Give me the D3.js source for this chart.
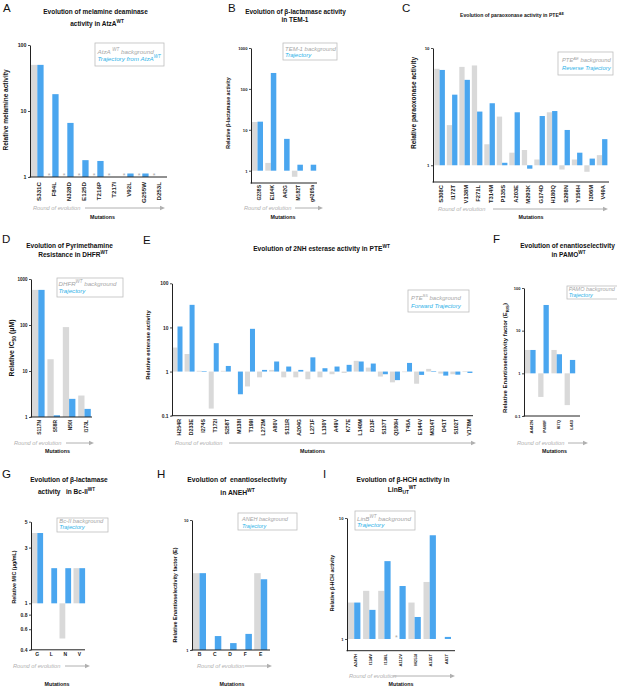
<!DOCTYPE html>
<html><head><meta charset="utf-8">
<script src="https://cdn.jsdelivr.net/npm/d3@7"></script>
<style>
body{margin:0;background:#fff;}
svg{display:block;font-family:"Liberation Sans",Arial,Helvetica,sans-serif;}
</style></head><body>
<svg id="chart" width="617" height="687"></svg>
<script>
// ---------------- DATA ----------------
const A_mutations  = ["S331C","F84L","N328D","E125D","T216P","T217I","V92L","G255W","D253L"];
const A_background = [50, null, null, null, null, null, null, null, null];
const A_trajectory = [50, 18, 6.6, 1.8, 1.75, null, 1.13, 1.13, null];
const A_notMeasured = ["F84L","N328D","E125D","T216P","T217I","V92L","G255W","D253L"];
const A_ticks = [1, 10, 100];

const B_mutations  = ["G238S","E104K","A42G","M182T","g4205a"];
const B_background = [15.5, 1.55, null, 0.71, null];
const B_trajectory = [15.8, 245, 6.0, 1.4, 1.4];
const B_ticks = [1, 10, 100, 1000];

const C_mutations  = ["S308C","I172T","V138M","F271L","T314M","P135S","A203E","M293K","G174D","H180Q","S298N","Y156H","I306M","V49A"];
const C_background = [6.65, 2.2, 6.9, 7.1, 1.51, 2.6, 1.28, 1.35, 1.12, 2.83, 0.92, 1.12, 0.88, 1.22];
const C_trajectory = [6.5, 4.0, 5.35, 2.87, 3.38, 1.05, 2.83, 0.935, 2.63, 2.9, 2.0, 1.28, 1.14, 1.67];
const C_ticks = [1, 10];

const D_mutations  = ["S117N","S58R","N50I","I173L"];
const D_background = [580, 18, 90, 2.93];
const D_trajectory = [580, 1.09, 2.48, 1.5];
const D_ticks = [1, 10, 100, 1000];

const E_mutations  = ["H254R","D233E","I274S","T172I","S258T","M138I","T199I","L272M","A80V","S111R","A204G","L271F","L130Y","A49V","K77E","L140M","D13F","S137T","Q180H","T45A","E144V","M314T","D41T","S102T","V178M"];
const E_background = [3.5, 2.5, 1.04, 0.145, 1.04, null, 0.46, 0.74, 1.09, 0.74, 0.74, 0.67, 0.74, 0.87, 0.93, 1.75, 1.23, 0.77, 0.57, 0.97, 0.53, 1.15, 0.9, 0.87, 1.03];
const E_trajectory = [10.5, 32.5, 1.03, 4.4, 1.34, 0.306, 9.3, 1.09, 1.69, 1.3, 1.09, 2.1, 1.19, 1.3, 1.42, 1.69, 1.52, 0.87, 0.64, 1.57, 0.84, 1.03, 0.81, 0.85, 0.93];
const E_ticks = [0.1, 1, 10, 100];

const F_mutations  = ["A442N","P440F","I67Q","L443"];
const F_background = [3.53, 0.28, 3.53, 0.18];
const F_trajectory = [3.53, 40, 2.8, 2.06];
const F_ticks = [0.1, 1, 10, 100];

const G_mutations  = ["G","L","N","V"];
const G_background = [4, null, 0.5, 2];
const G_trajectory = [4, 2, 2, 2];
const G_ticks = [0.4, 0.6, 0.8, 1, 3, 5];

const H_mutations  = ["B","C","D","F","E"];
const H_background = [3.9, null, null, null, 3.9];
const H_trajectory = [3.9, 1.28, 1.13, 1.33, 3.5];
const H_ticks = [1, 10];

const I_mutations  = ["A247H","I134V","I138L","A112V","M253I","A135T","A81T"];
const I_background = [2.0, 2.5, 2.5, null, 2.0, 2.96, null];
const I_trajectory = [2.0, 1.74, 4.4, 2.74, 1.52, 7.2, 1.04];
const I_notMeasured = ["A112V"];
const I_ticks = [1, 10];

// ---------------- STYLE ----------------
const GREY = "#d9d9d9", BLUE = "#4aa6ef", LEG_BLUE = "#2db2e8", LEG_GREY = "#a5a5a5", INK = "#222", SOFT = "#b0b0b0";
const svg = d3.select("#chart");

function renderRich(t, str, fs) {
  t.selectAll("tspan").remove();
  t.attr("font-size", fs);
  const parts = str.split(/(\^\{[^}]*\}|_\{[^}]*\})/).filter(s => s.length);
  let off = 0;
  for (const p of parts) {
    let txt = p, target = 0, size = fs;
    if (p.startsWith("^{")) { txt = p.slice(2, -1); target = -fs * 0.42; size = fs * 0.72; }
    else if (p.startsWith("_{")) { txt = p.slice(2, -1); target = fs * 0.28; size = fs * 0.72; }
    t.append("tspan").attr("dy", (target - off).toFixed(2)).attr("font-size", size.toFixed(2)).text(txt);
    off = target;
  }
}
function fitRich(t, str, fs0, width) {
  renderRich(t, str, fs0);
  if (width) {
    const w = t.node().getBBox().width;
    if (w > 0) { renderRich(t, str, fs0 * width / w); return fs0 * width / w; }
  }
  return fs0;
}

function drawPanel(P) {
  const g = svg.append("g");
  g.append("text").attr("x", P.letter.x).attr("y", P.letter.y).attr("font-size", 11.5).attr("fill", "#111").text(P.letter.t);

  let tfs = 6.5;
  P.title.forEach((L, i) => {
    const t = g.append("text").attr("x", L.x).attr("y", L.y).attr("text-anchor", "middle")
      .attr("font-weight", "bold").attr("fill", "#111").style("white-space", "pre");
    if (i === 0) tfs = fitRich(t, L.s, 6.5, L.w); else renderRich(t, L.s, tfs);
  });

  const y = d3.scaleLog().domain(P.domain).range([P.yBottom, P.yTop]);
  const x = d3.scaleBand().domain(P.cats).range([P.x0, P.x0 + P.step * P.cats.length]);
  const base = y(1);
  const rows = [];
  P.cats.forEach((c, i) => {
    if (P.bg[i] != null) rows.push({ c, v: P.bg[i], k: 0 });
    if (P.tr[i] != null) rows.push({ c, v: P.tr[i], k: 1 });
  });
  g.append("g").selectAll("rect").data(rows).join("rect")
    .attr("x", d => x(d.c) + d.k * P.bw).attr("width", P.bw)
    .attr("y", d => Math.min(y(d.v), base)).attr("height", d => Math.abs(y(d.v) - base))
    .attr("fill", d => d.k ? BLUE : GREY);

  if (P.stars) g.append("g").selectAll("text").data(P.stars).join("text")
    .attr("x", c => x(c) + P.bw / 2).attr("y", base + 0.8).attr("text-anchor", "middle")
    .attr("font-size", 7).attr("fill", "#aaa").text("*");

  const ax = g.append("g").attr("transform", `translate(${P.axisX},0)`)
    .call(d3.axisLeft(y).tickValues(P.ticks).tickFormat(d3.format("~g")).tickSize(2).tickSizeOuter(0).tickPadding(1.5));
  ax.attr("font-family", null).attr("font-size", null);
  ax.select(".domain").attr("stroke", INK).attr("stroke-width", 1);
  ax.selectAll(".tick line").attr("stroke", INK).attr("stroke-width", 0.8);
  ax.selectAll(".tick text").attr("font-size", P.tickFs).attr("font-weight", "bold").attr("fill", INK);

  g.append("line").attr("x1", P.axisX - 0.5).attr("x2", P.xEnd).attr("y1", P.yBottom).attr("y2", P.yBottom)
    .attr("stroke", INK).attr("stroke-width", 1);

  // category labels
  const lab = g.append("g").selectAll("text").data(P.cats).join("text")
    .attr("font-weight", "bold").attr("font-size", P.labelFs).attr("fill", INK).text(d => d);
  if (P.horizontalLabels) {
    lab.attr("x", c => x(c) + P.bw).attr("y", P.labelY).attr("text-anchor", "middle");
  } else {
    lab.attr("transform", c => `translate(${x(c) + P.bw + 1.3},${P.labelTop}) rotate(-90)`)
      .attr("y", P.labelFs * 0.35).attr("text-anchor", "end");
  }

  // y label
  const yl = g.append("text").attr("transform", `translate(${P.ylabel.x},${P.ylabel.y}) rotate(-90)`)
    .attr("text-anchor", "middle").attr("font-weight", "bold").attr("fill", "#111");
  const yfs = fitRich(yl, P.ylabel.s, 6, P.ylabel.w);
  yl.attr("y", yfs * 0.35);

  // legend
  const Lg = P.legend;
  g.append("rect").attr("x", Lg.x).attr("y", Lg.y).attr("width", Lg.w).attr("height", Lg.h)
    .attr("fill", "none").attr("stroke", "#bdbdbd").attr("stroke-width", 0.8);
  const lt = Lg.lines.map((L, i) => g.append("text").attr("x", Lg.tx).attr("y", L.y)
    .attr("font-style", "italic").attr("fill", i === 0 ? LEG_GREY : LEG_BLUE));
  const lfs = fitRich(lt[Lg.fit], Lg.lines[Lg.fit].s, 5.5, Lg.fw);
  lt.forEach((t, i) => { if (i !== Lg.fit) renderRich(t, Lg.lines[i].s, lfs); });

  // round of evolution + arrow
  const R = P.round;
  g.append("text").attr("x", R.x).attr("y", R.y).attr("font-style", "italic").attr("font-size", 5.7)
    .attr("fill", SOFT).text("Round of evolution");
  g.append("line").attr("x1", R.ax1).attr("x2", R.ax2 - 4).attr("y1", R.ay).attr("y2", R.ay)
    .attr("stroke", SOFT).attr("stroke-width", 1);
  g.append("path").attr("d", `M${R.ax2},${R.ay} L${R.ax2 - 5},${R.ay - 2.3} L${R.ax2 - 5},${R.ay + 2.3} Z`).attr("fill", SOFT);

  g.append("text").attr("x", P.mut.x).attr("y", P.mut.y).attr("text-anchor", "middle")
    .attr("font-weight", "bold").attr("font-size", 5.3).attr("fill", "#111").text("Mutations");
}

// ---------------- PANELS ----------------
const panels = [
  { letter: {t: "A", x: 3, y: 11.5},
    title: [{s: "Evolution of melamine deaminase", x: 95.5, y: 14, w: 105}, {s: "activity in AtzA^{WT}", x: 97, y: 25.5}],
    cats: A_mutations, bg: A_background, tr: A_trajectory, stars: A_notMeasured, ticks: A_ticks,
    domain: [1, 100], yTop: 45, yBottom: 177, axisX: 30, xEnd: 167, x0: 31, step: 15, bw: 6.3,
    labelTop: 182, labelFs: 6.2, tickFs: 5.3,
    ylabel: {s: "Relative melamine activity", x: 6, y: 110, w: 82},
    legend: {x: 95, y: 43, w: 69, h: 23, tx: 97.5, fit: 1, fw: 64,
             lines: [{s: "AtzA ^{WT} background", y: 54}, {s: "Trajectory from AtzA^{WT}", y: 60.5}]},
    round: {x: 33, y: 210, ax1: 85, ax2: 165, ay: 208}, mut: {x: 102.5, y: 219} },
  { letter: {t: "B", x: 228, y: 11.5},
    title: [{s: "Evolution of β-lactamase activity", x: 295.5, y: 14, w: 101}, {s: "in TEM-1", x: 295, y: 21.5}],
    cats: B_mutations, bg: B_background, tr: B_trajectory, ticks: B_ticks,
    domain: [0.5, 1000], yTop: 48, yBottom: 183, axisX: 251, xEnd: 317, x0: 252, step: 13.3, bw: 5.5,
    labelTop: 185, labelFs: 5.0, tickFs: 4.2,
    ylabel: {s: "Relative β-lactamase activity", x: 228, y: 113, w: 72},
    legend: {x: 283, y: 43, w: 54, h: 17, tx: 285, fit: 0, fw: 52,
             lines: [{s: "TEM-1 background", y: 50.5}, {s: "Trajectory", y: 57}]},
    round: {x: 244, y: 210, ax1: 295, ax2: 323, ay: 208}, mut: {x: 283, y: 219} },
  { letter: {t: "C", x: 402, y: 11.5},
    title: [{s: "Evolution of paraoxonase activity in PTE^{AE}", x: 512, y: 17, w: 104}],
    cats: C_mutations, bg: C_background, tr: C_trajectory, ticks: C_ticks,
    domain: [0.72, 10], yTop: 48, yBottom: 182, axisX: 433, xEnd: 609, x0: 434.3, step: 12.5, bw: 5.3,
    labelTop: 185, labelFs: 5.8, tickFs: 4.3,
    ylabel: {s: "Relative paraoxonase activity", x: 414, y: 103, w: 93},
    legend: {x: 558, y: 52, w: 55, h: 23, tx: 562, fit: 1, fw: 50,
             lines: [{s: "PTE^{AE} background", y: 62}, {s: "Reverse Trajectory", y: 70}]},
    round: {x: 438, y: 211, ax1: 493, ax2: 608, ay: 209}, mut: {x: 531, y: 219} },
  { letter: {t: "D", x: 2, y: 243},
    title: [{s: "Evolution of Pyrimethamine", x: 69.5, y: 247.5, w: 87}, {s: "Resistance in DHFR^{WT}", x: 73, y: 256.5}],
    cats: D_mutations, bg: D_background, tr: D_trajectory, ticks: D_ticks,
    domain: [1, 1000], yTop: 279, yBottom: 417, axisX: 31, xEnd: 92, x0: 32, step: 15.4, bw: 6.3,
    labelTop: 420, labelFs: 4.9, tickFs: 4.5,
    ylabel: {s: "Relative IC_{50} (μM)", x: 12, y: 348, w: 57},
    legend: {x: 57, y: 278, w: 66, h: 19, tx: 58.5, fit: 0, fw: 59,
             lines: [{s: "DHFR^{WT} background", y: 286}, {s: "Trajectory", y: 292.5}]},
    round: {x: 14, y: 445, ax1: 66, ax2: 94, ay: 443}, mut: {x: 57.5, y: 453} },
  { letter: {t: "E", x: 143, y: 244},
    title: [{s: "Evolution of 2NH esterase activity in PTE^{WT}", x: 321.5, y: 251, w: 137}],
    cats: E_mutations, bg: E_background, tr: E_trajectory, ticks: E_ticks,
    domain: [0.1, 100], yTop: 283.3, yBottom: 415.7, axisX: 172, xEnd: 473, x0: 172.5, step: 12.08, bw: 5,
    labelTop: 419, labelFs: 5.3, tickFs: 4.9,
    ylabel: {s: "Relative esterase activity", x: 148, y: 345, w: 70},
    legend: {x: 408, y: 290, w: 61, h: 22, tx: 411, fit: 1, fw: 51,
             lines: [{s: "PTE^{S5} background", y: 300}, {s: "Forward Trajectory", y: 308}]},
    round: {x: 175, y: 445, ax1: 229, ax2: 476, ay: 443}, mut: {x: 312.5, y: 453} },
  { letter: {t: "F", x: 493, y: 243},
    title: [{s: "Evolution of enantioselectivity", x: 567.5, y: 247.5, w: 95}, {s: "in PAMO^{WT}", x: 568.5, y: 257}],
    cats: F_mutations, bg: F_background, tr: F_trajectory, ticks: F_ticks,
    domain: [0.1, 100], yTop: 288, yBottom: 416, axisX: 524, xEnd: 580, x0: 525, step: 13.2, bw: 5.3,
    labelTop: 420, labelFs: 4.3, tickFs: 4,
    ylabel: {s: "Relative Enantioselectivity factor (E_{R/S})", x: 505, y: 358, w: 110},
    legend: {x: 567, y: 286, w: 52, h: 13, tx: 568.7, fit: 0, fw: 47,
             lines: [{s: "PAMO background", y: 290.5}, {s: "Trajectory", y: 296.5}]},
    round: {x: 517, y: 445, ax1: 568, ax2: 588, ay: 443}, mut: {x: 554.5, y: 453} },
  { letter: {t: "G", x: 2, y: 478},
    title: [{s: "Evolution of β-lactamase", x: 69, y: 481.5, w: 78}, {s: "activity   in Bc-II^{WT}", x: 66.5, y: 494}],
    cats: G_mutations, bg: G_background, tr: G_trajectory, ticks: G_ticks,
    domain: [0.4, 5], yTop: 521.7, yBottom: 649.8, axisX: 31, xEnd: 85, x0: 31.5, step: 14, bw: 5.8,
    horizontalLabels: true, labelY: 656, labelFs: 5, tickFs: 5,
    ylabel: {s: "Relative MIC  (μg/mL)", x: 14, y: 577, w: 53},
    legend: {x: 57, y: 518, w: 51, h: 14, tx: 59.3, fit: 0, fw: 45,
             lines: [{s: "Bc-II background", y: 523}, {s: "Trajectory", y: 529.3}]},
    round: {x: 13, y: 668, ax1: 65, ax2: 90, ay: 666}, mut: {x: 57, y: 686} },
  { letter: {t: "H", x: 157, y: 478},
    title: [{s: "Evolution of  enantioselectivity", x: 237, y: 482, w: 100}, {s: "in ANEH^{WT}", x: 237.5, y: 495}],
    cats: H_mutations, bg: H_background, tr: H_trajectory, ticks: H_ticks,
    domain: [1, 10], yTop: 520, yBottom: 650, axisX: 192, xEnd: 270, x0: 193, step: 15.3, bw: 6.5,
    horizontalLabels: true, labelY: 656, labelFs: 5, tickFs: 4,
    ylabel: {s: "Relative Enantioselectivity factor (E)", x: 175, y: 595, w: 95},
    legend: {x: 238, y: 513, w: 59, h: 17, tx: 242, fit: 0, fw: 48,
             lines: [{s: "ANEH background", y: 520.5}, {s: "Trajectory", y: 527.5}]},
    round: {x: 197, y: 668, ax1: 245, ax2: 272, ay: 666}, mut: {x: 232, y: 686} },
  { letter: {t: "I", x: 323, y: 478},
    title: [{s: "Evolution of β-HCH activity in", x: 403, y: 482, w: 93}, {s: "LinB_{UT}^{WT}", x: 402, y: 492}],
    cats: I_mutations, bg: I_background, tr: I_trajectory, stars: I_notMeasured, ticks: I_ticks,
    domain: [0.8, 10], yTop: 518, yBottom: 650.7, axisX: 347, xEnd: 455, x0: 348, step: 15.1, bw: 6.2,
    labelTop: 654, labelFs: 4.2, tickFs: 4.2,
    ylabel: {s: "Relative β-HCH activity", x: 332, y: 583, w: 57},
    legend: {x: 355, y: 511, w: 60, h: 19, tx: 357, fit: 0, fw: 55,
             lines: [{s: "LinB^{WT} background", y: 521}, {s: "Trajectory", y: 527}]},
    round: {x: 349, y: 678, ax1: 393, ax2: 455, ay: 676}, mut: {x: 401, y: 686} }
];
panels.forEach(drawPanel);
</script>
</body></html>
